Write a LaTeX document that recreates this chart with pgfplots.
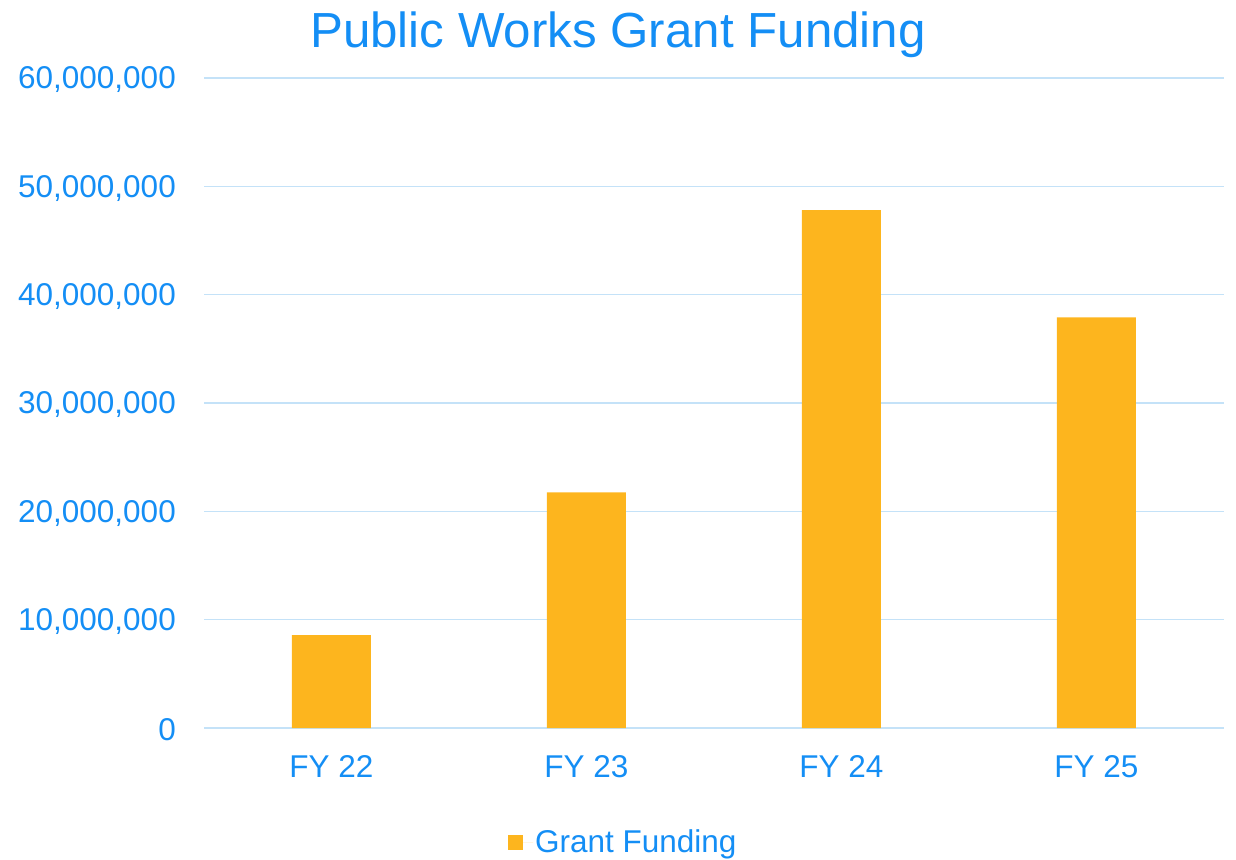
\documentclass[border=0pt]{standalone}
\usepackage{pgfplots}
\pgfplotsset{compat=1.18}
\usepackage{fontspec}
\setmainfont{Liberation Sans}
\definecolor{txtblue}{RGB}{20,142,245}
\definecolor{barorange}{RGB}{253,181,30}
\definecolor{gridblue}{RGB}{196,226,248}
\begin{document}
\begin{tikzpicture}
\useasboundingbox (0,0) rectangle (1236pt,859pt);
\begin{axis}[
  at={(204pt,131pt)}, anchor=south west,
  scale only axis, width=1020pt, height=650pt,
  xmin=-0.5, xmax=3.5, ymin=0, ymax=60000000,
  ytick={0,10000000,20000000,30000000,40000000,50000000,60000000},
  xtick={0,1,2,3}, xticklabels={FY 22,FY 23,FY 24,FY 25},
  scaled y ticks=false,
  /pgf/number format/.cd, fixed, 1000 sep={,}, assume math mode=true,
  /pgfplots/.cd,
  axis line style={draw=none},
  major tick length=0pt,
  ymajorgrids, grid style={gridblue, line width=1.5pt},
  ticklabel style={font=\fontsize{31.5}{36}\selectfont, text=txtblue},
  yticklabel style={anchor=east, inner sep=0pt, xshift=-28pt, yshift=-2pt},
  xticklabel style={anchor=north, inner sep=0pt, yshift=-27pt},
  ybar, bar width=79pt,
  legend style={at={(0.411,-0.1754)}, anchor=center, draw=none, fill=none,
    font=\fontsize{31.5}{36}\selectfont, text=txtblue, inner sep=0pt,
    /tikz/every even column/.append style={column sep=0pt}},
  legend image code/.code={\fill[barorange] (0pt,-7.5pt) rectangle (15pt,7.5pt);\path (0pt,0pt) -- (25pt,0pt);},
]
\addplot[fill=barorange, draw=none] coordinates {(0,8580000) (1,21760000) (2,47800000) (3,37900000)};
\addlegendentry{Grant Funding}
\end{axis}
\node[text=txtblue, font=\fontsize{49.3}{56}\selectfont, anchor=base] at (618pt,811pt) {Public Works Grant Funding};
\end{tikzpicture}
\end{document}
